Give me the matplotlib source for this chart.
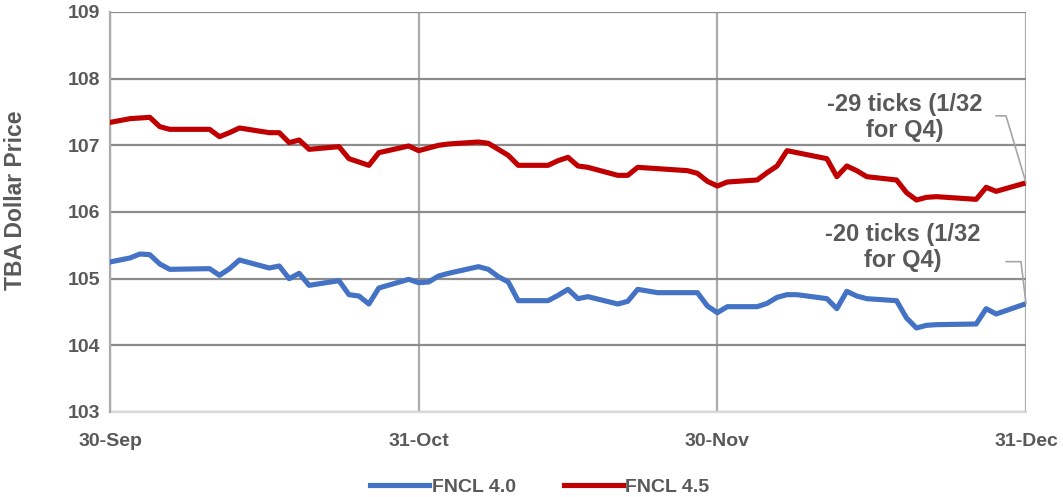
import numpy as np
import pandas as pd
import matplotlib
matplotlib.use("Agg")
import matplotlib.pyplot as plt

plt.rcParams["font.family"] = ["Liberation Sans", "DejaVu Sans"]
plt.rcParams["font.weight"] = "bold"

# Q4 2017 TBA prices (FNCL 4.0 / FNCL 4.5)
dates_40 = [
    "2017-09-30", "2017-10-02", "2017-10-03", "2017-10-04", "2017-10-05", "2017-10-06",
    "2017-10-10", "2017-10-11", "2017-10-12", "2017-10-13", "2017-10-16", "2017-10-17",
    "2017-10-18", "2017-10-19", "2017-10-20", "2017-10-23", "2017-10-24", "2017-10-25",
    "2017-10-26", "2017-10-27", "2017-10-30", "2017-10-31", "2017-11-01", "2017-11-02",
    "2017-11-03", "2017-11-06", "2017-11-07", "2017-11-08", "2017-11-09", "2017-11-10",
    "2017-11-13", "2017-11-14", "2017-11-15", "2017-11-16", "2017-11-17", "2017-11-20",
    "2017-11-21", "2017-11-22", "2017-11-24", "2017-11-27", "2017-11-28", "2017-11-29",
    "2017-11-30", "2017-12-01", "2017-12-04", "2017-12-05", "2017-12-06", "2017-12-07",
    "2017-12-08", "2017-12-11", "2017-12-12", "2017-12-13", "2017-12-14", "2017-12-15",
    "2017-12-18", "2017-12-19", "2017-12-20", "2017-12-21", "2017-12-22", "2017-12-26",
    "2017-12-27", "2017-12-28", "2017-12-31",
]
fncl_40 = [
    105.25, 105.31, 105.37, 105.36, 105.22, 105.14,
    105.15, 105.05, 105.15, 105.28, 105.16, 105.19,
    105.00, 105.08, 104.90, 104.97, 104.76, 104.74,
    104.62, 104.86, 104.99, 104.94, 104.95, 105.04,
    105.08, 105.18, 105.14, 105.03, 104.95, 104.67,
    104.67, 104.75, 104.84, 104.70, 104.73, 104.62,
    104.66, 104.84, 104.79, 104.79, 104.79, 104.59,
    104.49, 104.58, 104.58, 104.63, 104.72, 104.76,
    104.76, 104.70, 104.55, 104.81, 104.74, 104.70,
    104.67, 104.41, 104.26, 104.30, 104.31, 104.32,
    104.55, 104.47, 104.625,
]

dates_45 = [
    "2017-09-30", "2017-10-02", "2017-10-03", "2017-10-04", "2017-10-05", "2017-10-06",
    "2017-10-10", "2017-10-11", "2017-10-12", "2017-10-13", "2017-10-16", "2017-10-17",
    "2017-10-18", "2017-10-19", "2017-10-20", "2017-10-23", "2017-10-24", "2017-10-25",
    "2017-10-26", "2017-10-27", "2017-10-30", "2017-10-31", "2017-11-01", "2017-11-02",
    "2017-11-03", "2017-11-06", "2017-11-07", "2017-11-08", "2017-11-09", "2017-11-10",
    "2017-11-13", "2017-11-14", "2017-11-15", "2017-11-16", "2017-11-17", "2017-11-20",
    "2017-11-21", "2017-11-22", "2017-11-24", "2017-11-27", "2017-11-28", "2017-11-29",
    "2017-11-30", "2017-12-01", "2017-12-04", "2017-12-05", "2017-12-06", "2017-12-07",
    "2017-12-08", "2017-12-11", "2017-12-12", "2017-12-13", "2017-12-14", "2017-12-15",
    "2017-12-18", "2017-12-19", "2017-12-20", "2017-12-21", "2017-12-22", "2017-12-26",
    "2017-12-27", "2017-12-28", "2017-12-31",
]
fncl_45 = [
    107.34375, 107.40, 107.41, 107.42, 107.28, 107.24,
    107.24, 107.13, 107.19, 107.26, 107.19, 107.19,
    107.04, 107.08, 106.94, 106.98, 106.80, 106.75,
    106.70, 106.89, 106.99, 106.92, 106.96, 107.00,
    107.02, 107.05, 107.03, 106.94, 106.85, 106.70,
    106.70, 106.77, 106.82, 106.69, 106.67, 106.55,
    106.55, 106.67, 106.65, 106.62, 106.58, 106.46,
    106.39, 106.45, 106.48, 106.59, 106.69, 106.92,
    106.89, 106.80, 106.53, 106.69, 106.62, 106.53,
    106.48, 106.29, 106.18, 106.22, 106.23, 106.19,
    106.37, 106.31, 106.4375,
]

tick_dates = ["2017-09-30", "2017-10-31", "2017-11-30", "2017-12-31"]
tick_labels = ["30-Sep", "31-Oct", "30-Nov", "31-Dec"]
notes = ["-20 ticks (1/32\nfor Q4)", "-29 ticks (1/32\nfor Q4)"]

BLUE = "#4472C4"
RED = "#C00000"
TEXT = "#595959"

x40 = pd.to_datetime(dates_40)
x45 = pd.to_datetime(dates_45)
ticks = pd.to_datetime(tick_dates)

fig = plt.figure(figsize=(10.63, 4.97), dpi=100)
ax = fig.add_axes([110 / 1063, 1 - 412 / 497, (1026 - 110) / 1063, 400 / 497])

ax.plot(x40, fncl_40, color=BLUE, lw=3.7, solid_joinstyle="round", label="FNCL 4.0", zorder=3)
ax.plot(x45, fncl_45, color=RED, lw=3.7, solid_joinstyle="round", label="FNCL 4.5", zorder=3)

ax.set_xlim(ticks[0], ticks[-1])
ax.set_ylim(103, 109)
ax.set_xticks(ticks)
ax.set_xticklabels(tick_labels)
ax.set_yticks(np.arange(103, 110, 1))
ax.tick_params(axis="both", length=0, labelsize=14, labelcolor=TEXT)
ax.tick_params(axis="x", pad=15)
ax.tick_params(axis="y", pad=7)
for lab in ax.get_xticklabels() + ax.get_yticklabels():
    lab.set_fontweight("bold")

ax.grid(axis="y", color="#8C8C8C", lw=1.6, zorder=1)
ax.grid(axis="x", color="#ABABAB", lw=1.6, zorder=1)
for side in ["top", "right"]:
    ax.spines[side].set_visible(False)
ax.spines["left"].set_color("#ABABAB")
ax.spines["left"].set_linewidth(1.6)
ax.spines["bottom"].set_color("#D9D9D9")
ax.spines["bottom"].set_linewidth(1.6)
ax.spines["bottom"].set_zorder(2)

ax.set_ylabel("TBA Dollar Price", fontsize=16.5, fontweight="bold", color=TEXT)
ax.yaxis.set_label_coords(-0.091, 0.53)

# end-of-quarter change labels with leader lines
for xs, ys, note, txt_off, lead_start, lead_angle in [
    (x40, fncl_40, notes[0], (-123, 56), (-20, 42), 96.8),
    (x45, fncl_45, notes[1], (-121, 65), (-30, 67), 106.6),
]:
    ax.annotate(note, xy=(xs[-1], ys[-1]), xytext=txt_off, textcoords="offset pixels",
                ha="center", va="center", multialignment="center",
                fontsize=17, fontweight="bold", color=TEXT, linespacing=1.15, zorder=4)
    ax.annotate("", xy=(xs[-1], ys[-1]), xytext=lead_start, textcoords="offset pixels",
                arrowprops=dict(arrowstyle="-", color="#A6A6A6", lw=1.2, shrinkA=0, shrinkB=0,
                                connectionstyle=f"angle,angleA=0,angleB={lead_angle}"),
                zorder=4)

leg = fig.legend(loc="center", bbox_to_anchor=(540 / 1063, 1 - 487 / 497), ncol=2,
                 frameon=False, fontsize=14, handlelength=3.0, handletextpad=0.15,
                 columnspacing=2.5, labelcolor=TEXT)
for t in leg.get_texts():
    t.set_fontweight("bold")

fig.savefig("out.png", dpi=100)
